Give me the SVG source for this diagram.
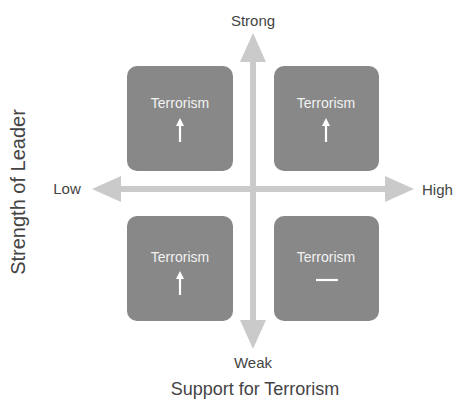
<svg xmlns="http://www.w3.org/2000/svg" width="457" height="407" viewBox="0 0 457 407">
  <style>
    .box { fill: #888888; }
    .axis { stroke: #cacaca; stroke-width: 6; fill: none; }
    .head { fill: #cacaca; }
    .lbl { font-family: "Liberation Sans", Arial, sans-serif; fill: #444444; }
    .inner { font-family: "Liberation Sans", Arial, sans-serif; font-size: 14px; fill: #f2f2f2; text-anchor: middle; }
    .mark { stroke: #ffffff; stroke-width: 2.2; fill: none; }
    .markhead { fill: #ffffff; }
  </style>
  <defs>
    <g id="upArrow">
      <line class="mark" x1="0" y1="6" x2="0" y2="24"/>
      <polygon class="markhead" points="0,0 -4,8 4,8"/>
    </g>
  </defs>

  <g id="connectors">
    <!-- vertical axis: Strong to Weak -->
    <line class="axis" x1="253" y1="55" x2="253" y2="326"/>
    <polygon class="head" points="253,33 240,62 266,62"/>
    <polygon class="head" points="253,349 240,320 266,320"/>
    <!-- horizontal axis: Low to High -->
    <line class="axis" x1="110" y1="189" x2="396" y2="189"/>
    <polygon class="head" points="92,189 121,176 121,202"/>
    <polygon class="head" points="414,189 385,176 385,202"/>
  </g>

  <g id="node-strong-low">
    <rect class="box" x="127" y="66" width="106" height="105" rx="10"/>
    <text class="inner" x="180" y="108">Terrorism</text>
    <use href="#upArrow" x="180" y="118"/>
  </g>
  <g id="node-strong-high">
    <rect class="box" x="274" y="66" width="105" height="105" rx="10"/>
    <text class="inner" x="326" y="108">Terrorism</text>
    <use href="#upArrow" x="326" y="118"/>
  </g>
  <g id="node-weak-low">
    <rect class="box" x="127" y="216" width="106" height="105" rx="10"/>
    <text class="inner" x="180" y="262">Terrorism</text>
    <use href="#upArrow" x="180" y="271"/>
  </g>
  <g id="node-weak-high">
    <rect class="box" x="274" y="216" width="105" height="105" rx="10"/>
    <text class="inner" x="326" y="262">Terrorism</text>
    <line class="mark" x1="316" y1="280" x2="338" y2="280"/>
  </g>

  <g id="labels">
    <text class="lbl" x="253" y="26" font-size="15" text-anchor="middle">Strong</text>
    <text class="lbl" x="253" y="368" font-size="15" text-anchor="middle">Weak</text>
    <text class="lbl" x="67" y="194" font-size="15" text-anchor="middle">Low</text>
    <text class="lbl" x="422" y="195" font-size="15">High</text>
    <text class="lbl" x="255" y="395" font-size="18" text-anchor="middle">Support for Terrorism</text>
    <text class="lbl" transform="translate(25,192) rotate(-90)" font-size="20" text-anchor="middle">Strength of Leader</text>
  </g>
</svg>
